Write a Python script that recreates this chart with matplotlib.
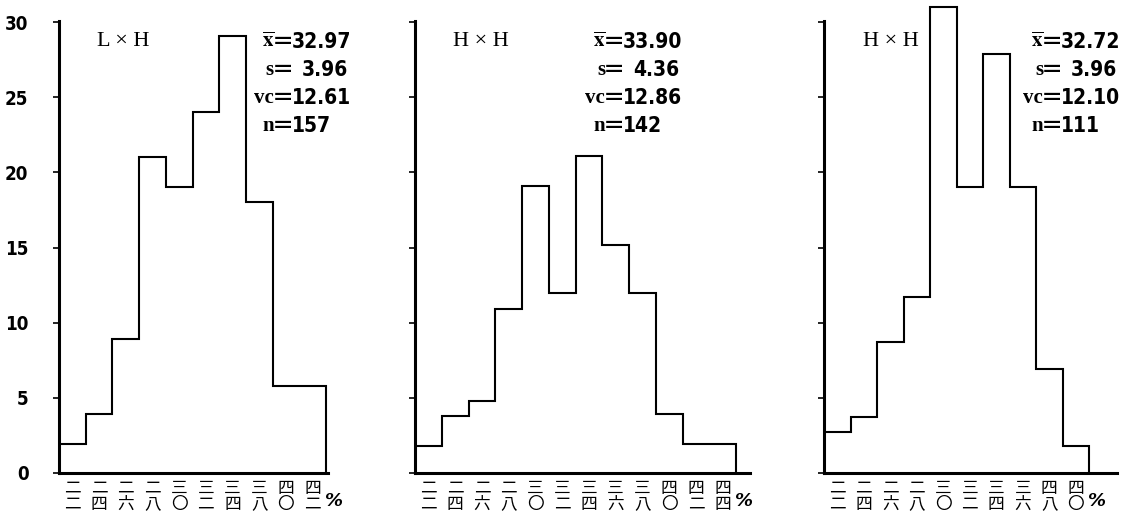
import matplotlib.pyplot as plt
import numpy as np

plt.rcParams["mathtext.fontset"] = "stix"

# heights (y axis 0-30)
lxh = [1.9, 3.9, 8.9, 21.0, 19.0, 24.0, 29.1, 18.0, 5.8, 5.8]
hxh_a = [1.8, 3.8, 4.8, 10.9, 19.1, 12.0, 21.1, 15.2, 12.0, 3.9, 1.9, 1.9]
hxh_b = [2.7, 3.7, 8.7, 11.7, 31.0, 19.0, 27.9, 19.0, 6.9, 1.8]

# kanji class labels, written top to bottom
labels_1 = ["二二", "二四", "二六", "二八", "三〇", "三二", "三四", "三八", "四〇", "四二"]
labels_2 = ["二二", "二四", "二六", "二八", "三〇", "三二", "三四", "三六", "三八", "四〇", "四二", "四四"]
labels_3 = ["二二", "二四", "二六", "二八", "三〇", "三二", "三四", "三六", "四八", "四〇"]

titles = ["L × H", "H × H", "H × H"]
stat_names = [r"$\overline{\mathbf{x}}$", "s", "vc", "n"]
stats_1 = ["32.97", "3.96", "12.61", "157"]
stats_2 = ["33.90", "4.36", "12.86", "142"]
stats_3 = ["32.72", "3.96", "12.10", "111"]

W, H = 1124, 521
fig = plt.figure(figsize=(W / 100, H / 100), dpi=100)

num_font = dict(fontfamily="DejaVu Sans", fontstretch="condensed", fontweight="bold")
ser_font = dict(fontfamily="Liberation Serif", fontweight="bold")

# pixel layout: axis x, px per bar, end of baseline, title x, "=" centre
panels = [
    (lxh, labels_1, stats_1, titles[0], 59, 26.7, 328, 97, 283),
    (hxh_a, labels_2, stats_2, titles[1], 415, 26.75, 750, 453, 614),
    (hxh_b, labels_3, stats_3, titles[2], 824, 26.5, 1117, 863, 1052),
]

y0, ppu = 473, 15.03  # pixel of y=0, pixels per unit
ytop = 31.4

for k, (vals, labs, stats, title, ax_x, pw, x_end, tx, eq_x) in enumerate(panels):
    n = len(vals)
    xr = (x_end - ax_x) / pw
    ax = fig.add_axes([ax_x / W, (H - y0) / H, (x_end - ax_x) / W, ytop * ppu / H])
    edges = np.arange(n + 1)
    ax.stairs(vals, edges, baseline=0, fill=False, color="black", linewidth=1.5)
    ax.set_xlim(0, xr)
    ax.set_ylim(0, ytop)
    for s in ["top", "right"]:
        ax.spines[s].set_visible(False)
    ax.spines["left"].set_linewidth(2.2)
    ax.spines["bottom"].set_linewidth(2.2)
    ax.spines["left"].set_bounds(0, 30.1)
    ax.set_yticks(np.arange(0, 31, 5))
    ax.tick_params(axis="y", direction="out", length=4, width=1.2, pad=18)
    if k == 0:
        for t in ax.get_yticklabels():
            t.set(fontsize=13.5, **num_font)
    else:
        ax.set_yticklabels([])
    ax.set_xticks(edges[:-1] + 0.5)
    ax.set_xticklabels(["\n".join(l) for l in labs], fontfamily="Noto Sans CJK JP",
                       fontsize=12, linespacing=0.92)
    ax.tick_params(axis="x", length=0, pad=5)

    # "%" after the last label
    fig.text((ax_x + (n + 0.3) * pw) / W, 1 - 501 / H, "%", fontsize=13,
             fontweight="bold", fontstyle="italic", ha="center", va="center")

    # cross label and statistics
    fig.text(tx / W, 1 - 42 / H, title, fontfamily="Liberation Serif", fontsize=16,
             ha="left", va="center")
    for i, (name, val) in enumerate(zip(stat_names, stats)):
        yy = 1 - (42 + i * 28) / H
        fig.text((eq_x - 9) / W, yy, name, fontsize=15, ha="right", va="center", **ser_font)
        fig.text(eq_x / W, yy, "＝", fontfamily="Noto Sans CJK JP", fontsize=16,
                 fontweight="bold", ha="center", va="center")
        if i == 1:
            fig.text((eq_x + 65) / W, yy, val, fontsize=15, ha="right", va="center", **num_font)
        else:
            fig.text((eq_x + 9) / W, yy, val, fontsize=15, ha="left", va="center", **num_font)

fig.savefig("out.png", dpi=100)
